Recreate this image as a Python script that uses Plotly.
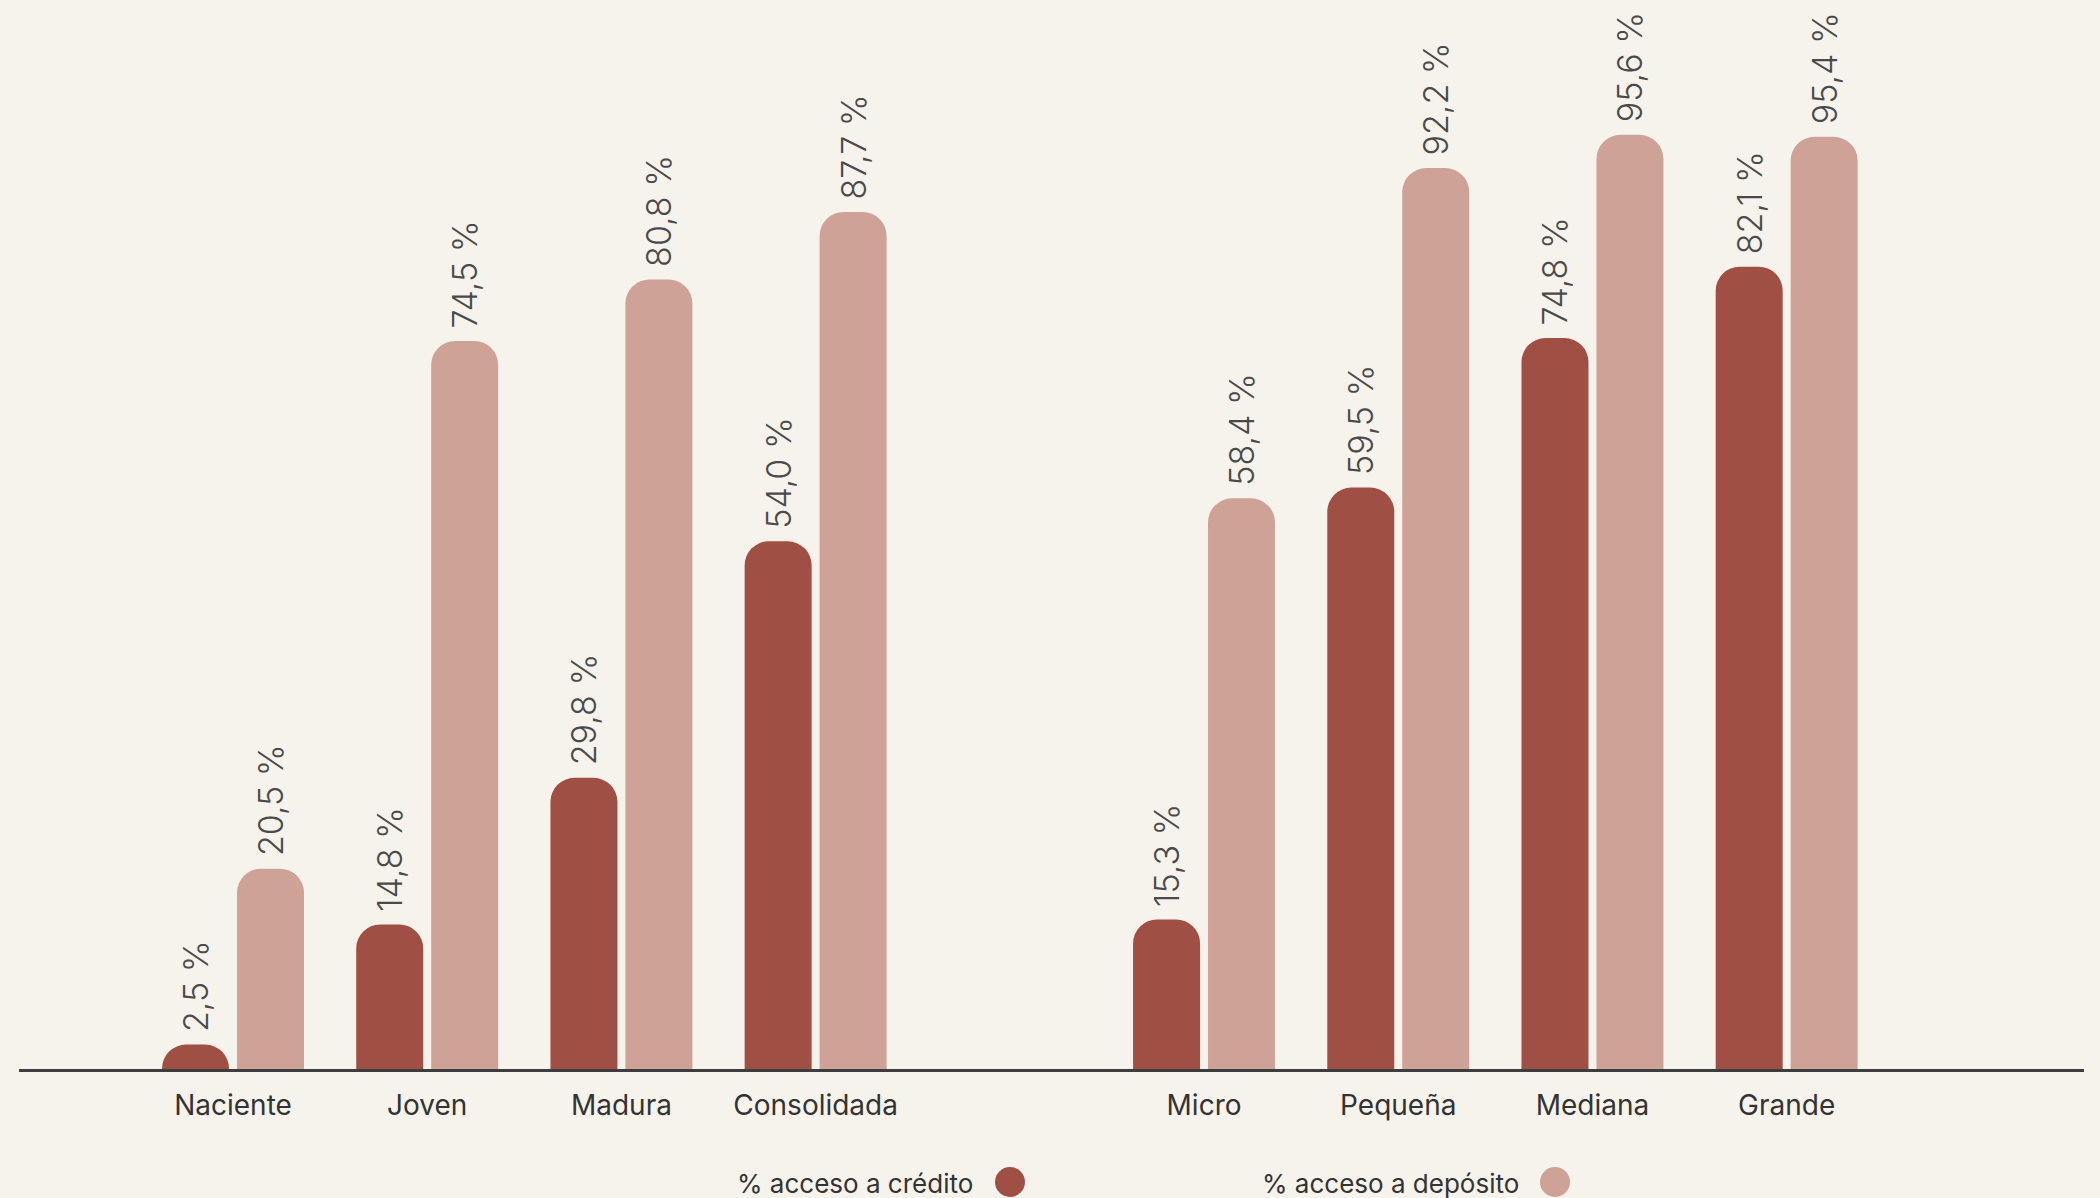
import plotly.graph_objects as go

categories = ["Naciente", "Joven", "Madura", "Consolidada", "Micro", "Pequeña", "Mediana", "Grande"]
positions = [0, 1, 2, 3, 5, 6, 7, 8]
credito = [2.5, 14.8, 29.8, 54.0, 15.3, 59.5, 74.8, 82.1]
deposito = [20.5, 74.5, 80.8, 87.7, 58.4, 92.2, 95.6, 95.4]
series_names = ["% acceso a crédito", "% acceso a depósito"]

C_CRED = "#A04F45"
C_DEP = "#CEA297"
BG = "#F6F3EC"
FONT = "Inter"

W, H = 2100, 1198
L, R, T, B = 19, 16, 0, 129
plot_w = W - L - R
plot_h = H - T - B

bar_w = 0.345
gap = 0.041

def fmt(v):
    return f"{v:.1f}".replace(".", ",") + " %"

fig = go.Figure()
for vals, col, off, name in [(credito, C_CRED, -bar_w - gap / 2, series_names[0]),
                             (deposito, C_DEP, gap / 2, series_names[1])]:
    fig.add_trace(go.Bar(
        x=positions, y=vals, name=name,
        width=bar_w, offset=off,
        marker=dict(color=col, cornerradius=24, line=dict(width=0)),
        text=[" " + fmt(v) for v in vals],
        textposition="outside", textangle=-90,
        constraintext="none",
        textfont=dict(family=FONT, size=34, color="#4a4a4a", weight=300),
        cliponaxis=False,
        hoverinfo="skip",
    ))

fig.update_layout(
    width=W, height=H,
    margin=dict(l=L, r=R, t=T, b=B),
    paper_bgcolor=BG, plot_bgcolor=BG,
    barmode="overlay",
    showlegend=False,
)
fig.update_xaxes(
    range=[-1.102, 9.531],
    tickvals=positions, ticktext=categories,
    tickfont=dict(family=FONT, size=28, color="#333333"),
    showgrid=False, zeroline=False,
    showline=True, linecolor="#3d3d3d", linewidth=3,
    ticks="", ticklabelstandoff=9,
)
fig.update_yaxes(range=[0, 109.4], visible=False, showgrid=False, zeroline=False)

def px_to_paper_x(px):
    return (px - L) / plot_w

def py_to_paper_y(py):
    return (H - B - py) / plot_h

legend_items = [(series_names[0], C_CRED, 975, 1010), (series_names[1], C_DEP, 1521, 1555)]
for text, col, tx, cx in legend_items:
    fig.add_annotation(
        x=px_to_paper_x(tx), y=py_to_paper_y(1183), xref="paper", yref="paper",
        text=text, showarrow=False, xanchor="right", yanchor="middle",
        font=dict(family=FONT, size=26, color="#333333"),
    )
    fig.add_shape(
        type="circle", xref="paper", yref="paper",
        xsizemode="pixel", ysizemode="pixel",
        xanchor=px_to_paper_x(cx), yanchor=py_to_paper_y(1182),
        x0=-15, x1=15, y0=-15, y1=15,
        fillcolor=col, line=dict(width=0),
    )

fig.write_html(
    "out.html",
    config={"displayModeBar": False},
    post_script="document.body.style.margin='0';document.body.style.overflow='hidden';",
)
